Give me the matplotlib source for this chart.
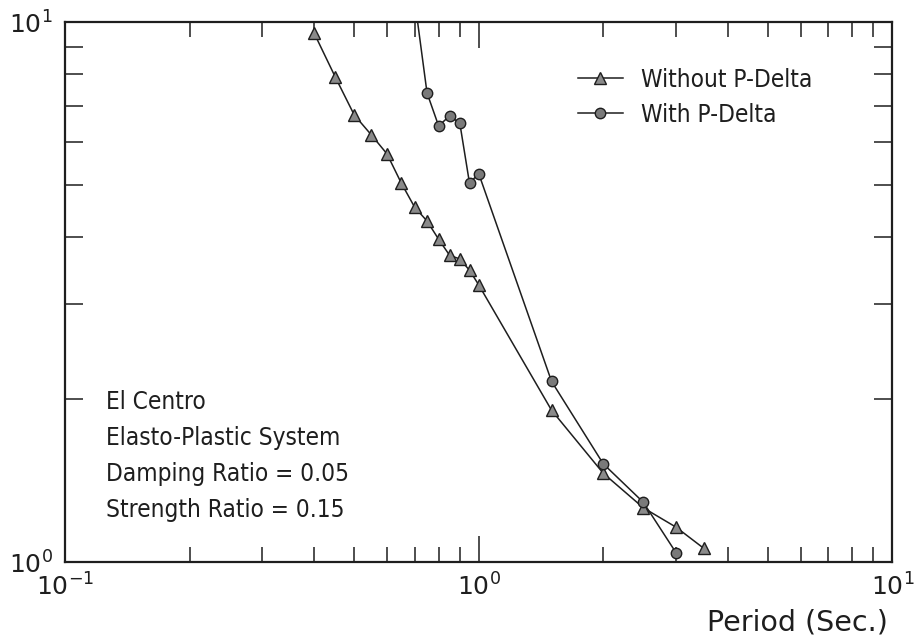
import matplotlib
matplotlib.use("Agg")
import matplotlib.pyplot as plt
from matplotlib.ticker import LogLocator, NullFormatter
from matplotlib.font_manager import FontProperties

# Ductility demand vs. period, El Centro record
period_no_pdelta = [0.40, 0.45, 0.50, 0.55, 0.60, 0.65, 0.70, 0.75, 0.80,
                    0.85, 0.90, 0.95, 1.00, 1.50, 2.00, 2.50, 3.00, 3.50]
ductility_no_pdelta = [9.54, 7.91, 6.73, 6.18, 5.70, 5.03, 4.54, 4.28, 3.96,
                       3.70, 3.64, 3.47, 3.26, 1.91, 1.46, 1.26, 1.16, 1.06]

period_pdelta = [0.70, 0.75, 0.80, 0.85, 0.90, 0.95, 1.00, 1.50, 2.00, 2.50, 3.00]
ductility_pdelta = [11.0, 7.39, 6.42, 6.70, 6.50, 5.03, 5.24, 2.16, 1.52, 1.29, 1.04]

series_labels = ["Without P-Delta", "With P-Delta"]
note_lines = ["El Centro", "Elasto-Plastic System",
              "Damping Ratio = 0.05", "Strength Ratio = 0.15"]
x_label = "Period (Sec.)"

ink = "#1e1e1e"
cond = FontProperties(family="DejaVu Sans", stretch="condensed", size=17.5)

fig = plt.figure(figsize=(9.2, 6.42), dpi=100)
ax = fig.add_axes([0.0707, 0.1246, 0.8993, 0.8411])

ax.plot(period_no_pdelta, ductility_no_pdelta, color=ink, lw=1.1,
        marker="^", ms=8, mfc="#8a8a8a", mec=ink, mew=1.0,
        label=series_labels[0])
ax.plot(period_pdelta, ductility_pdelta, color=ink, lw=1.1,
        marker="o", ms=7.5, mfc="#7a7a7a", mec=ink, mew=1.0,
        label=series_labels[1])

ax.set_xscale("log")
ax.set_yscale("log")
ax.set_xlim(0.1, 10)
ax.set_ylim(1, 10)

for sp in ax.spines.values():
    sp.set_linewidth(1.6)
    sp.set_color(ink)

ax.xaxis.set_major_locator(LogLocator(base=10, numticks=5))
ax.xaxis.set_minor_locator(LogLocator(base=10, subs=range(2, 10), numticks=20))
ax.yaxis.set_major_locator(LogLocator(base=10, numticks=5))
ax.yaxis.set_minor_locator(LogLocator(base=10, subs=range(2, 10), numticks=20))
ax.xaxis.set_minor_formatter(NullFormatter())
ax.yaxis.set_minor_formatter(NullFormatter())

ax.tick_params(which="both", direction="in", top=True, right=True,
               color=ink, width=1.1, labelsize=18, labelcolor=ink)
ax.tick_params(axis="x", which="major", length=19, pad=8)
ax.tick_params(axis="x", which="minor", length=11)
ax.tick_params(axis="y", which="major", length=13, pad=9)
ax.tick_params(axis="y", which="minor", length=13)

ax.set_xlabel(x_label, loc="right", fontsize=20.5, color=ink, labelpad=6)
ax.xaxis.get_label().set_x(0.995)

leg = ax.legend(loc="upper left", bbox_to_anchor=(0.62, 0.915), frameon=False,
                prop=cond, handlelength=1.85,
                handletextpad=0.75, labelspacing=0.45, borderpad=0,
                borderaxespad=0)
for t in leg.get_texts():
    t.set_color(ink)

note_top = 0.297
note_step = 0.0672
for i, line in enumerate(note_lines):
    ax.text(0.0495, note_top - i * note_step, line, transform=ax.transAxes,
            ha="left", va="center", fontproperties=cond, color=ink)

fig.savefig("out.png", dpi=100)
